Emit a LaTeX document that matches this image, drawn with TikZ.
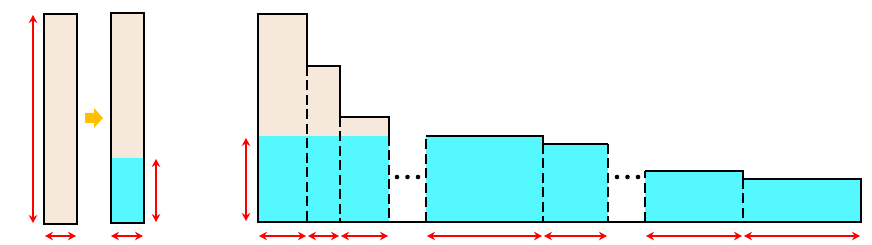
\documentclass[tikz,border=0pt]{standalone}
\usetikzlibrary{arrows.meta}
\definecolor{beige}{RGB}{246,233,220}
\definecolor{cyanf}{RGB}{85,248,255}
\definecolor{gold}{RGB}{255,192,0}
\begin{document}
\begin{tikzpicture}[x=1pt,y=-1pt,
  outline/.style={draw=black,line width=2pt,line join=miter},
  dashln/.style={draw=black,line width=2pt,dash pattern=on 10pt off 4.5pt},
  dim/.style={draw=red,line width=2.2pt,{Stealth[length=8pt,width=8.5pt]}-{Stealth[length=8pt,width=8.5pt]}},
  dotn/.style={circle,fill=black,inner sep=0pt,minimum size=4.6pt}]
\useasboundingbox (0,0) rectangle (872,245);
% left bars
\fill[beige] (44,14) rectangle (77,224);
\draw[outline] (44,14) rectangle (77,224);
\fill[beige] (111,13) rectangle (144,158);
\fill[cyanf] (111,158) rectangle (144,223);
\draw[outline] (111,13) rectangle (144,223);
% yellow arrow
\fill[gold] (85,113) -- (94,113) -- (94,108) -- (103,118) -- (94,128) -- (94,123) -- (85,123) -- cycle;
% left dims
\coordinate (l1t) at (33,15); \coordinate (l1b) at (33,223);
\coordinate (l1l) at (45,236); \coordinate (l1r) at (76,236);
\coordinate (l2t) at (156,159); \coordinate (l2b) at (156,222);
\coordinate (l2l) at (111,236); \coordinate (l2r) at (143,236);
\draw[dim] (l1t) -- (l1b);
\draw[dim] (l1l) -- (l1r);
\draw[dim] (l2t) -- (l2b);
\draw[dim] (l2l) -- (l2r);
% right chart fills
\fill[beige] (258,14) -- (307,14) -- (307,66) -- (340,66) -- (340,117) -- (389,117) -- (389,136) -- (258,136) -- cycle;
\fill[cyanf] (258,136) rectangle (389,222);
\fill[cyanf] (426,136) -- (543,136) -- (543,144) -- (608,144) -- (608,222) -- (426,222) -- cycle;
\fill[cyanf] (645,171) -- (743,171) -- (743,179) -- (861,179) -- (861,222) -- (645,222) -- cycle;
% outlines
\draw[outline] (258,222) -- (258,14) -- (307,14) -- (307,66) -- (340,66) -- (340,117) -- (389,117) -- (389,136);
\draw[dashln] (307,66) -- (307,222);
\draw[dashln] (340,117) -- (340,222);
\draw[dashln] (389,136) -- (389,222);
\draw[outline] (426,136) -- (543,136) -- (543,144) -- (608,144);
\draw[dashln] (426,222) -- (426,136);
\draw[dashln] (543,144) -- (543,222);
\draw[dashln] (608,144) -- (608,222);
\draw[outline] (645,171) -- (743,171) -- (743,179) -- (861,179) -- (861,222);
\draw[dashln] (645,222) -- (645,171);
\draw[dashln] (743,179) -- (743,222);
\draw[outline] (257,222) -- (862,222);
% dots
\node[dotn] (d1) at (397,177) {};
\node[dotn] (d2) at (407.5,177) {};
\node[dotn] (d3) at (418,177) {};
\node[dotn] (d4) at (617,177) {};
\node[dotn] (d5) at (627.5,177) {};
\node[dotn] (d6) at (638,177) {};
% right dims
\coordinate (rv1) at (246,138); \coordinate (rv2) at (246,221);
\draw[dim] (rv1) -- (rv2);
\foreach \a/\b in {258/307,307/340,340/389,426/543,543/608,645/743,743/861}{
  \coordinate (ha) at (\a+1,236); \coordinate (hb) at (\b-1,236);
  \draw[dim] (ha) -- (hb);
}
\end{tikzpicture}
\end{document}
